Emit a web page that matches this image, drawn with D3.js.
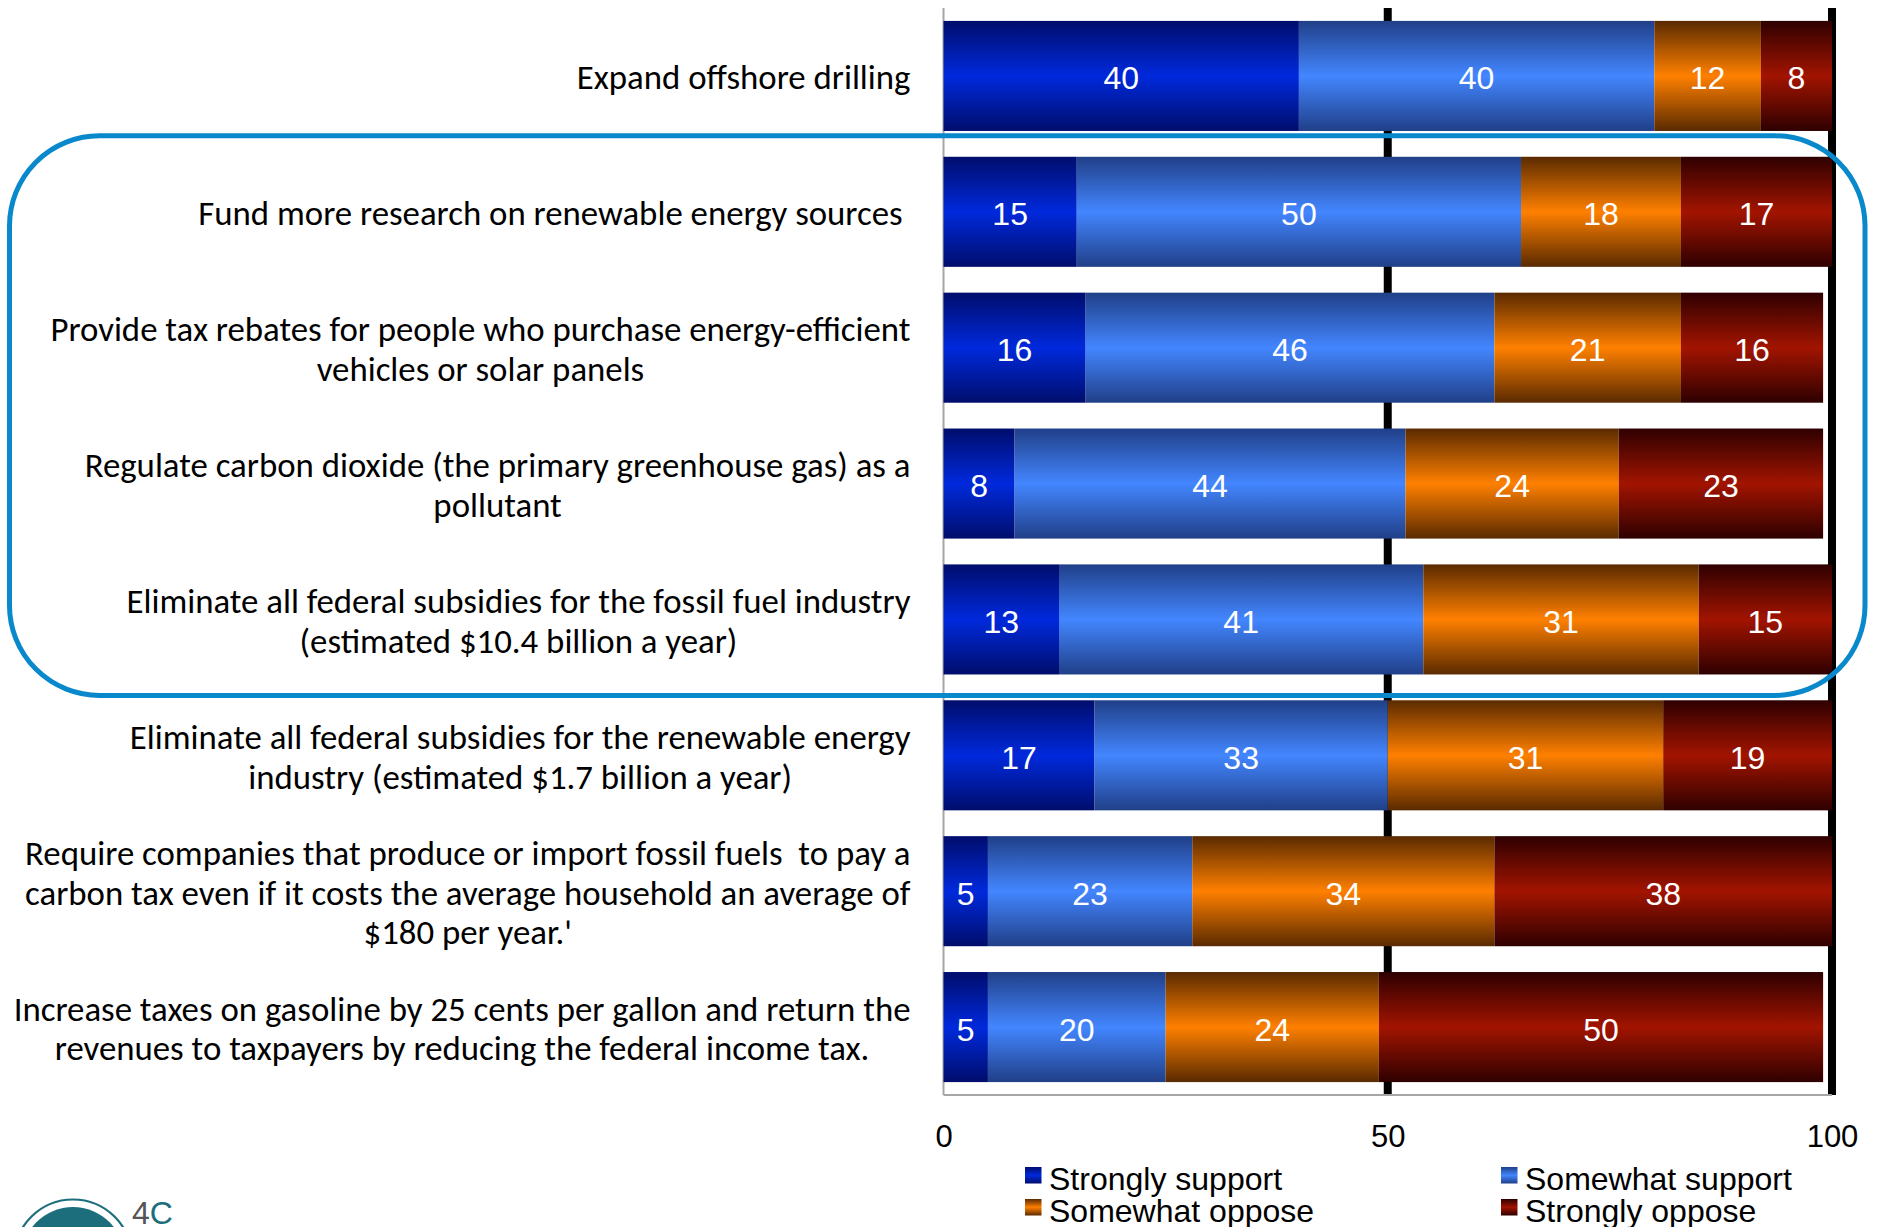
<!DOCTYPE html>
<html>
<head>
<meta charset="utf-8">
<script src="https://cdn.jsdelivr.net/npm/d3@7"></script>
<style>
  html, body { margin: 0; padding: 0; background: #ffffff; }
  svg { display: block; }
  .cat text { white-space: pre; }
</style>
</head>
<body>
<svg id="chart" width="1877" height="1227"></svg>
<script>
// ---------------- DATA ----------------
const categories = [
  ["Expand offshore drilling"],
  ["Fund more research on renewable energy sources "],
  ["Provide tax rebates for people who purchase energy-efficient", "vehicles or solar panels"],
  ["Regulate carbon dioxide (the primary greenhouse gas) as a", "pollutant"],
  ["Eliminate all federal subsidies for the fossil fuel industry", "(estimated $10.4 billion a year)"],
  ["Eliminate all federal subsidies for the renewable energy", "industry (estimated $1.7 billion a year)"],
  ["Require companies that produce or import fossil fuels  to pay a", "carbon tax even if it costs the average household an average of", "$180 per year.'"],
  ["Increase taxes on gasoline by 25 cents per gallon and return the", "revenues to taxpayers by reducing the federal income tax."]
];
const seriesNames = ["Strongly support", "Somewhat support", "Somewhat oppose", "Strongly oppose"];
const stronglySupport = [40, 15, 16, 8, 13, 17, 5, 5];
const somewhatSupport = [40, 50, 46, 44, 41, 33, 23, 20];
const somewhatOppose  = [12, 18, 21, 24, 31, 31, 34, 24];
const stronglyOppose  = [8, 17, 16, 23, 15, 19, 38, 50];
const tickValues = [0, 50, 100];
const gridValues = [50, 100];
const highlighted = [1, 2, 3, 4];

// ---------------- STYLE ----------------
const gradStops = [
  { dark: "#000d6c", bright: "#0029dc" },
  { dark: "#203f88", bright: "#4386ff" },
  { dark: "#5a2a00", bright: "#ff8000" },
  { dark: "#2e0000", bright: "#a21400" }
];
const numFont = "'Liberation Sans', Arial, sans-serif";
const catFont = "Carlito, Calibri, Lato, 'Open Sans', sans-serif";

const svg = d3.select("#chart");
const defs = svg.append("defs");
gradStops.forEach((g, i) => {
  const lg = defs.append("linearGradient")
    .attr("id", "grad" + i)
    .attr("x1", 0).attr("y1", 0).attr("x2", 0).attr("y2", 1);
  lg.append("stop").attr("offset", "0%").attr("stop-color", g.dark);
  lg.append("stop").attr("offset", "50%").attr("stop-color", g.bright);
  lg.append("stop").attr("offset", "100%").attr("stop-color", g.dark);
});

// ---------------- SCALES ----------------
const x = d3.scaleLinear().domain([0, 100]).range([943.5, 1832]);
const y = d3.scaleBand()
  .domain(d3.range(categories.length))
  .range([8, 1095])
  .paddingInner(0.19)
  .paddingOuter(0.095);

const seriesValues = [stronglySupport, somewhatSupport, somewhatOppose, stronglyOppose];
const rows = categories.map((c, i) => {
  const o = { idx: i };
  seriesNames.forEach((s, k) => { o[s] = seriesValues[k][i]; });
  return o;
});
const stacked = d3.stack().keys(seriesNames)(rows);

// ---------------- GRID ----------------
svg.append("g").selectAll("line")
  .data(gridValues)
  .join("line")
  .attr("x1", d => x(d)).attr("x2", d => x(d))
  .attr("y1", y.range()[0]).attr("y2", y.range()[1])
  .attr("stroke", "#000").attr("stroke-width", 8);

// axis lines (gray)
svg.append("line")
  .attr("x1", x(0)).attr("x2", x(0))
  .attr("y1", y.range()[0]).attr("y2", y.range()[1])
  .attr("stroke", "#a6a6a6").attr("stroke-width", 2);
svg.append("line")
  .attr("x1", x(0)).attr("x2", x(100))
  .attr("y1", y.range()[1]).attr("y2", y.range()[1])
  .attr("stroke", "#a6a6a6").attr("stroke-width", 2);

// ---------------- BARS ----------------
const layers = svg.append("g").selectAll("g")
  .data(stacked)
  .join("g")
  .attr("fill", (d, i) => `url(#grad${i})`);

layers.selectAll("rect")
  .data(d => d)
  .join("rect")
  .attr("x", d => x(d[0]))
  .attr("width", d => x(d[1]) - x(d[0]))
  .attr("y", (d, i) => y(i))
  .attr("height", y.bandwidth());

const labels = svg.append("g");
stacked.forEach(layer => {
  labels.selectAll(null)
    .data(layer)
    .join("text")
    .attr("x", d => (x(d[0]) + x(d[1])) / 2)
    .attr("y", (d, i) => y(i) + y.bandwidth() / 2 + 13.5)
    .attr("text-anchor", "middle")
    .attr("font-family", numFont)
    .attr("font-size", 32)
    .attr("fill", "#fff")
    .text(d => d[1] - d[0]);
});

// ---------------- X AXIS ----------------
const xAxis = d3.axisBottom(x).tickValues(tickValues).tickSize(0).tickPadding(30);
const gx = svg.append("g")
  .attr("transform", `translate(0,${y.range()[1]})`)
  .call(xAxis);
gx.select(".domain").remove();
gx.selectAll("text")
  .attr("font-family", numFont)
  .attr("font-size", 31)
  .attr("fill", "#000");

// ---------------- CATEGORY LABELS ----------------
const catG = svg.append("g").attr("class", "cat");
const probe = catG.append("text").attr("font-family", catFont).attr("font-size", 100)
  .style("white-space", "pre")
  .text(categories[7][0]);
const probeW = probe.node().getComputedTextLength();
probe.remove();
const catSize = 100 * 897 / probeW;
const lineH = 39.5;
const rightEdge = 910.5;

categories.forEach((lines, i) => {
  const cy = y(i) + y.bandwidth() / 2;
  const t = catG.append("text")
    .attr("font-family", catFont)
    .attr("font-size", catSize)
    .attr("fill", "#000")
    .attr("text-anchor", "middle")
    .style("white-space", "pre");
  const tspans = lines.map((ln, j) => t.append("tspan")
    .attr("y", cy + 13.5 + (j - (lines.length - 1) / 2) * lineH)
    .text(ln));
  const maxW = d3.max(tspans, s => s.node().getComputedTextLength());
  tspans.forEach(s => s.attr("x", rightEdge - maxW / 2));
});

// ---------------- HIGHLIGHT BOX ----------------
const hTop = y(highlighted[0]) - 21;
const hBot = y(highlighted[highlighted.length - 1]) + y.bandwidth() + 21;
svg.append("rect")
  .attr("x", 9.5).attr("y", hTop)
  .attr("width", 1865 - 9.5).attr("height", hBot - hTop)
  .attr("rx", 90).attr("ry", 90)
  .attr("fill", "none")
  .attr("stroke", "#0a88cc")
  .attr("stroke-width", 5);

// ---------------- LEGEND ----------------
const legendPos = [
  { x: 1025, y: 1167 },
  { x: 1501, y: 1167 },
  { x: 1025, y: 1199 },
  { x: 1501, y: 1199 }
];
const legend = svg.append("g");
seriesNames.forEach((name, i) => {
  const p = legendPos[i];
  legend.append("rect")
    .attr("x", p.x).attr("y", p.y)
    .attr("width", 16.5).attr("height", 16.5)
    .attr("fill", `url(#grad${i})`);
  legend.append("text")
    .attr("x", p.x + 24).attr("y", p.y + 23)
    .attr("font-family", numFont)
    .attr("font-size", 32)
    .attr("fill", "#000")
    .text(name);
});

// ---------------- LOGO ----------------
const logo = svg.append("g");
logo.append("circle").attr("cx", 73).attr("cy", 1258.5).attr("r", 59)
  .attr("fill", "none").attr("stroke", "#1c6e7c").attr("stroke-width", 2.2);
logo.append("circle").attr("cx", 73).attr("cy", 1258.5).attr("r", 51.5)
  .attr("fill", "#1c6e7c");
const lt = logo.append("text").attr("x", 132).attr("y", 1224)
  .attr("font-family", numFont).attr("font-size", 32);
lt.append("tspan").attr("fill", "#555").text("4");
lt.append("tspan").attr("fill", "#1c6e7c").text("C");
</script>
</body>
</html>
